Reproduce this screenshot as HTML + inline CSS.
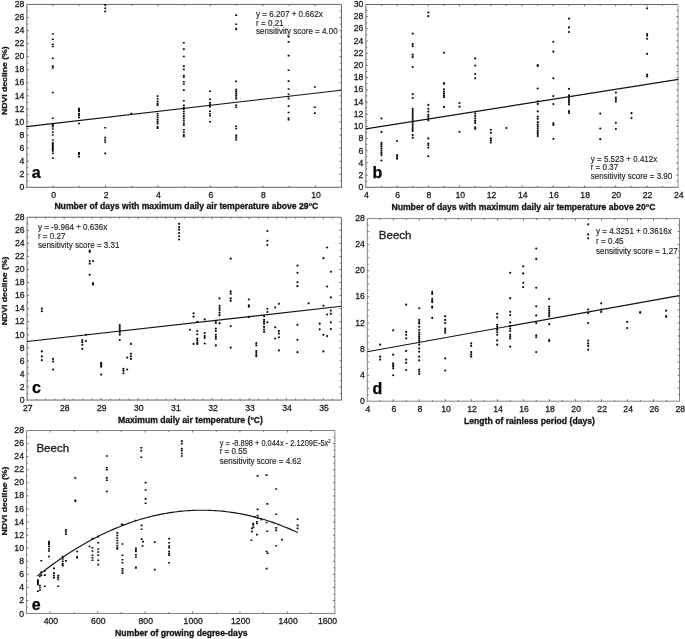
<!DOCTYPE html>
<html><head><meta charset="utf-8"><title>NDVI decline</title>
<style>
html,body{margin:0;padding:0;background:#fff;}
body{width:685px;height:639px;overflow:hidden;}
svg{display:block;will-change:transform;filter:blur(0.3px);font-family:"Liberation Sans",sans-serif;}
</style></head><body>
<svg width="685" height="639" viewBox="0 0 685 639">
<rect width="685" height="639" fill="#ffffff"/>
<path d="M26.85 187.80V4.40H341.45M26.35 187.30H341.95" fill="none" stroke="#666" stroke-width="1"/>
<path d="M341.45 4.40V187.30" fill="none" stroke="#666" stroke-width="1"/>
<path d="M365.90 187.80V4.47H678.10M365.40 187.30H678.60" fill="none" stroke="#666" stroke-width="1"/>
<path d="M678.10 4.47V187.30" fill="none" stroke="#9a9a9a" stroke-width="1"/>
<path d="M27.08 400.56V217.26H341.45M26.58 400.06H341.95" fill="none" stroke="#666" stroke-width="1"/>
<path d="M341.45 217.26V400.06" fill="none" stroke="#666" stroke-width="1"/>
<path d="M367.30 401.70V218.57H679.50M366.80 401.20H680.00" fill="none" stroke="#858585" stroke-width="1"/>
<path d="M679.50 218.57V401.20" fill="none" stroke="#858585" stroke-width="1"/>
<path d="M26.46 614.00V430.50H334.85M25.96 613.50H335.35" fill="none" stroke="#858585" stroke-width="1"/>
<path d="M334.85 430.50V613.50" fill="none" stroke="#858585" stroke-width="1"/>
<path d="M53.07 187.30v-2.0M53.07 4.40v2.0M79.28 187.30v-1.4M79.28 4.40v1.4M105.50 187.30v-2.0M105.50 4.40v2.0M131.72 187.30v-1.4M131.72 4.40v1.4M157.93 187.30v-2.0M157.93 4.40v2.0M184.15 187.30v-1.4M184.15 4.40v1.4M210.37 187.30v-2.0M210.37 4.40v2.0M236.58 187.30v-1.4M236.58 4.40v1.4M262.80 187.30v-2.0M262.80 4.40v2.0M289.02 187.30v-1.4M289.02 4.40v1.4M315.23 187.30v-2.0M315.23 4.40v2.0M26.85 180.77h1.4M341.45 180.77h-1.4M26.85 174.24h2.0M341.45 174.24h-2.0M26.85 167.70h1.4M341.45 167.70h-1.4M26.85 161.17h2.0M341.45 161.17h-2.0M26.85 154.64h1.4M341.45 154.64h-1.4M26.85 148.11h2.0M341.45 148.11h-2.0M26.85 141.58h1.4M341.45 141.58h-1.4M26.85 135.04h2.0M341.45 135.04h-2.0M26.85 128.51h1.4M341.45 128.51h-1.4M26.85 121.98h2.0M341.45 121.98h-2.0M26.85 115.45h1.4M341.45 115.45h-1.4M26.85 108.91h2.0M341.45 108.91h-2.0M26.85 102.38h1.4M341.45 102.38h-1.4M26.85 95.85h2.0M341.45 95.85h-2.0M26.85 89.32h1.4M341.45 89.32h-1.4M26.85 82.79h2.0M341.45 82.79h-2.0M26.85 76.25h1.4M341.45 76.25h-1.4M26.85 69.72h2.0M341.45 69.72h-2.0M26.85 63.19h1.4M341.45 63.19h-1.4M26.85 56.66h2.0M341.45 56.66h-2.0M26.85 50.12h1.4M341.45 50.12h-1.4M26.85 43.59h2.0M341.45 43.59h-2.0M26.85 37.06h1.4M341.45 37.06h-1.4M26.85 30.53h2.0M341.45 30.53h-2.0M26.85 24.00h1.4M341.45 24.00h-1.4M26.85 17.46h2.0M341.45 17.46h-2.0M26.85 10.93h1.4M341.45 10.93h-1.4M381.51 187.30v-1.4M381.51 4.47v1.4M397.12 187.30v-2.0M397.12 4.47v2.0M412.73 187.30v-1.4M412.73 4.47v1.4M428.34 187.30v-2.0M428.34 4.47v2.0M443.95 187.30v-1.4M443.95 4.47v1.4M459.56 187.30v-2.0M459.56 4.47v2.0M475.17 187.30v-1.4M475.17 4.47v1.4M490.78 187.30v-2.0M490.78 4.47v2.0M506.39 187.30v-1.4M506.39 4.47v1.4M522.00 187.30v-2.0M522.00 4.47v2.0M537.61 187.30v-1.4M537.61 4.47v1.4M553.22 187.30v-2.0M553.22 4.47v2.0M568.83 187.30v-1.4M568.83 4.47v1.4M584.44 187.30v-2.0M584.44 4.47v2.0M600.05 187.30v-1.4M600.05 4.47v1.4M615.66 187.30v-2.0M615.66 4.47v2.0M631.27 187.30v-1.4M631.27 4.47v1.4M646.88 187.30v-2.0M646.88 4.47v2.0M662.49 187.30v-1.4M662.49 4.47v1.4M365.90 181.21h1.4M678.10 181.21h-1.4M365.90 175.11h2.0M678.10 175.11h-2.0M365.90 169.02h1.4M678.10 169.02h-1.4M365.90 162.92h2.0M678.10 162.92h-2.0M365.90 156.83h1.4M678.10 156.83h-1.4M365.90 150.73h2.0M678.10 150.73h-2.0M365.90 144.64h1.4M678.10 144.64h-1.4M365.90 138.55h2.0M678.10 138.55h-2.0M365.90 132.45h1.4M678.10 132.45h-1.4M365.90 126.36h2.0M678.10 126.36h-2.0M365.90 120.26h1.4M678.10 120.26h-1.4M365.90 114.17h2.0M678.10 114.17h-2.0M365.90 108.07h1.4M678.10 108.07h-1.4M365.90 101.98h2.0M678.10 101.98h-2.0M365.90 95.89h1.4M678.10 95.89h-1.4M365.90 89.79h2.0M678.10 89.79h-2.0M365.90 83.70h1.4M678.10 83.70h-1.4M365.90 77.60h2.0M678.10 77.60h-2.0M365.90 71.51h1.4M678.10 71.51h-1.4M365.90 65.41h2.0M678.10 65.41h-2.0M365.90 59.32h1.4M678.10 59.32h-1.4M365.90 53.22h2.0M678.10 53.22h-2.0M365.90 47.13h1.4M678.10 47.13h-1.4M365.90 41.04h2.0M678.10 41.04h-2.0M365.90 34.94h1.4M678.10 34.94h-1.4M365.90 28.85h2.0M678.10 28.85h-2.0M365.90 22.75h1.4M678.10 22.75h-1.4M365.90 16.66h2.0M678.10 16.66h-2.0M365.90 10.56h1.4M678.10 10.56h-1.4M36.34 400.06v-1.4M36.34 217.26v1.4M45.59 400.06v-1.4M45.59 217.26v1.4M54.85 400.06v-1.4M54.85 217.26v1.4M64.11 400.06v-2.0M64.11 217.26v2.0M73.37 400.06v-1.4M73.37 217.26v1.4M82.62 400.06v-1.4M82.62 217.26v1.4M91.88 400.06v-1.4M91.88 217.26v1.4M101.14 400.06v-2.0M101.14 217.26v2.0M110.40 400.06v-1.4M110.40 217.26v1.4M119.65 400.06v-1.4M119.65 217.26v1.4M128.91 400.06v-1.4M128.91 217.26v1.4M138.17 400.06v-2.0M138.17 217.26v2.0M147.43 400.06v-1.4M147.43 217.26v1.4M156.69 400.06v-1.4M156.69 217.26v1.4M165.94 400.06v-1.4M165.94 217.26v1.4M175.20 400.06v-2.0M175.20 217.26v2.0M184.46 400.06v-1.4M184.46 217.26v1.4M193.71 400.06v-1.4M193.71 217.26v1.4M202.97 400.06v-1.4M202.97 217.26v1.4M212.23 400.06v-2.0M212.23 217.26v2.0M221.49 400.06v-1.4M221.49 217.26v1.4M230.75 400.06v-1.4M230.75 217.26v1.4M240.00 400.06v-1.4M240.00 217.26v1.4M249.26 400.06v-2.0M249.26 217.26v2.0M258.52 400.06v-1.4M258.52 217.26v1.4M267.77 400.06v-1.4M267.77 217.26v1.4M277.03 400.06v-1.4M277.03 217.26v1.4M286.29 400.06v-2.0M286.29 217.26v2.0M295.55 400.06v-1.4M295.55 217.26v1.4M304.80 400.06v-1.4M304.80 217.26v1.4M314.06 400.06v-1.4M314.06 217.26v1.4M323.32 400.06v-2.0M323.32 217.26v2.0M332.58 400.06v-1.4M332.58 217.26v1.4M27.08 393.53h1.4M341.45 393.53h-1.4M27.08 387.00h2.0M341.45 387.00h-2.0M27.08 380.47h1.4M341.45 380.47h-1.4M27.08 373.95h2.0M341.45 373.95h-2.0M27.08 367.42h1.4M341.45 367.42h-1.4M27.08 360.89h2.0M341.45 360.89h-2.0M27.08 354.36h1.4M341.45 354.36h-1.4M27.08 347.83h2.0M341.45 347.83h-2.0M27.08 341.30h1.4M341.45 341.30h-1.4M27.08 334.77h2.0M341.45 334.77h-2.0M27.08 328.25h1.4M341.45 328.25h-1.4M27.08 321.72h2.0M341.45 321.72h-2.0M27.08 315.19h1.4M341.45 315.19h-1.4M27.08 308.66h2.0M341.45 308.66h-2.0M27.08 302.13h1.4M341.45 302.13h-1.4M27.08 295.60h2.0M341.45 295.60h-2.0M27.08 289.07h1.4M341.45 289.07h-1.4M27.08 282.55h2.0M341.45 282.55h-2.0M27.08 276.02h1.4M341.45 276.02h-1.4M27.08 269.49h2.0M341.45 269.49h-2.0M27.08 262.96h1.4M341.45 262.96h-1.4M27.08 256.43h2.0M341.45 256.43h-2.0M27.08 249.90h1.4M341.45 249.90h-1.4M27.08 243.37h2.0M341.45 243.37h-2.0M27.08 236.85h1.4M341.45 236.85h-1.4M27.08 230.32h2.0M341.45 230.32h-2.0M27.08 223.79h1.4M341.45 223.79h-1.4M380.31 401.20v-1.4M380.31 218.57v1.4M393.32 401.20v-2.0M393.32 218.57v2.0M406.32 401.20v-1.4M406.32 218.57v1.4M419.33 401.20v-2.0M419.33 218.57v2.0M432.34 401.20v-1.4M432.34 218.57v1.4M445.35 401.20v-2.0M445.35 218.57v2.0M458.36 401.20v-1.4M458.36 218.57v1.4M471.37 401.20v-2.0M471.37 218.57v2.0M484.38 401.20v-1.4M484.38 218.57v1.4M497.38 401.20v-2.0M497.38 218.57v2.0M510.39 401.20v-1.4M510.39 218.57v1.4M523.40 401.20v-2.0M523.40 218.57v2.0M536.41 401.20v-1.4M536.41 218.57v1.4M549.42 401.20v-2.0M549.42 218.57v2.0M562.42 401.20v-1.4M562.42 218.57v1.4M575.43 401.20v-2.0M575.43 218.57v2.0M588.44 401.20v-1.4M588.44 218.57v1.4M601.45 401.20v-2.0M601.45 218.57v2.0M614.46 401.20v-1.4M614.46 218.57v1.4M627.47 401.20v-2.0M627.47 218.57v2.0M640.48 401.20v-1.4M640.48 218.57v1.4M653.48 401.20v-2.0M653.48 218.57v2.0M666.49 401.20v-1.4M666.49 218.57v1.4M367.30 394.68h1.4M679.50 394.68h-1.4M367.30 388.15h2.0M679.50 388.15h-2.0M367.30 381.63h1.4M679.50 381.63h-1.4M367.30 375.11h2.0M679.50 375.11h-2.0M367.30 368.59h1.4M679.50 368.59h-1.4M367.30 362.06h2.0M679.50 362.06h-2.0M367.30 355.54h1.4M679.50 355.54h-1.4M367.30 349.02h2.0M679.50 349.02h-2.0M367.30 342.50h1.4M679.50 342.50h-1.4M367.30 335.98h2.0M679.50 335.98h-2.0M367.30 329.45h1.4M679.50 329.45h-1.4M367.30 322.93h2.0M679.50 322.93h-2.0M367.30 316.41h1.4M679.50 316.41h-1.4M367.30 309.88h2.0M679.50 309.88h-2.0M367.30 303.36h1.4M679.50 303.36h-1.4M367.30 296.84h2.0M679.50 296.84h-2.0M367.30 290.32h1.4M679.50 290.32h-1.4M367.30 283.79h2.0M679.50 283.79h-2.0M367.30 277.27h1.4M679.50 277.27h-1.4M367.30 270.75h2.0M679.50 270.75h-2.0M367.30 264.23h1.4M679.50 264.23h-1.4M367.30 257.71h2.0M679.50 257.71h-2.0M367.30 251.18h1.4M679.50 251.18h-1.4M367.30 244.66h2.0M679.50 244.66h-2.0M367.30 238.14h1.4M679.50 238.14h-1.4M367.30 231.61h2.0M679.50 231.61h-2.0M367.30 225.09h1.4M679.50 225.09h-1.4M50.18 613.50v-2.0M50.18 430.50v2.0M73.90 613.50v-1.4M73.90 430.50v1.4M97.63 613.50v-2.0M97.63 430.50v2.0M121.35 613.50v-1.4M121.35 430.50v1.4M145.07 613.50v-2.0M145.07 430.50v2.0M168.79 613.50v-1.4M168.79 430.50v1.4M192.52 613.50v-2.0M192.52 430.50v2.0M216.24 613.50v-1.4M216.24 430.50v1.4M239.96 613.50v-2.0M239.96 430.50v2.0M263.68 613.50v-1.4M263.68 430.50v1.4M287.41 613.50v-2.0M287.41 430.50v2.0M311.13 613.50v-1.4M311.13 430.50v1.4M26.46 606.96h1.4M334.85 606.96h-1.4M26.46 600.43h2.0M334.85 600.43h-2.0M26.46 593.89h1.4M334.85 593.89h-1.4M26.46 587.36h2.0M334.85 587.36h-2.0M26.46 580.82h1.4M334.85 580.82h-1.4M26.46 574.29h2.0M334.85 574.29h-2.0M26.46 567.75h1.4M334.85 567.75h-1.4M26.46 561.21h2.0M334.85 561.21h-2.0M26.46 554.68h1.4M334.85 554.68h-1.4M26.46 548.14h2.0M334.85 548.14h-2.0M26.46 541.61h1.4M334.85 541.61h-1.4M26.46 535.07h2.0M334.85 535.07h-2.0M26.46 528.54h1.4M334.85 528.54h-1.4M26.46 522.00h2.0M334.85 522.00h-2.0M26.46 515.46h1.4M334.85 515.46h-1.4M26.46 508.93h2.0M334.85 508.93h-2.0M26.46 502.39h1.4M334.85 502.39h-1.4M26.46 495.86h2.0M334.85 495.86h-2.0M26.46 489.32h1.4M334.85 489.32h-1.4M26.46 482.79h2.0M334.85 482.79h-2.0M26.46 476.25h1.4M334.85 476.25h-1.4M26.46 469.71h2.0M334.85 469.71h-2.0M26.46 463.18h1.4M334.85 463.18h-1.4M26.46 456.64h2.0M334.85 456.64h-2.0M26.46 450.11h1.4M334.85 450.11h-1.4M26.46 443.57h2.0M334.85 443.57h-2.0M26.46 437.04h1.4M334.85 437.04h-1.4" stroke="#555" stroke-width="0.8" fill="none"/>
<text transform="translate(53.67 198.10) scale(0.93 1)" font-size="9.3" text-anchor="middle" font-weight="normal" fill="#1a1a1a" stroke="#1a1a1a" stroke-width="0.3" >0</text>
<text transform="translate(106.10 198.10) scale(0.93 1)" font-size="9.3" text-anchor="middle" font-weight="normal" fill="#1a1a1a" stroke="#1a1a1a" stroke-width="0.3" >2</text>
<text transform="translate(158.53 198.10) scale(0.93 1)" font-size="9.3" text-anchor="middle" font-weight="normal" fill="#1a1a1a" stroke="#1a1a1a" stroke-width="0.3" >4</text>
<text transform="translate(210.97 198.10) scale(0.93 1)" font-size="9.3" text-anchor="middle" font-weight="normal" fill="#1a1a1a" stroke="#1a1a1a" stroke-width="0.3" >6</text>
<text transform="translate(263.40 198.10) scale(0.93 1)" font-size="9.3" text-anchor="middle" font-weight="normal" fill="#1a1a1a" stroke="#1a1a1a" stroke-width="0.3" >8</text>
<text transform="translate(315.93 198.10) scale(0.93 1)" font-size="9.3" text-anchor="middle" font-weight="normal" fill="#1a1a1a" stroke="#1a1a1a" stroke-width="0.3" >10</text>
<text transform="translate(24.35 190.30) scale(0.93 1)" font-size="9.3" text-anchor="end" font-weight="normal" fill="#1a1a1a" stroke="#1a1a1a" stroke-width="0.3" >0</text>
<text transform="translate(24.35 177.19) scale(0.93 1)" font-size="9.3" text-anchor="end" font-weight="normal" fill="#1a1a1a" stroke="#1a1a1a" stroke-width="0.3" >2</text>
<text transform="translate(24.35 164.08) scale(0.93 1)" font-size="9.3" text-anchor="end" font-weight="normal" fill="#1a1a1a" stroke="#1a1a1a" stroke-width="0.3" >4</text>
<text transform="translate(24.35 150.97) scale(0.93 1)" font-size="9.3" text-anchor="end" font-weight="normal" fill="#1a1a1a" stroke="#1a1a1a" stroke-width="0.3" >6</text>
<text transform="translate(24.35 137.86) scale(0.93 1)" font-size="9.3" text-anchor="end" font-weight="normal" fill="#1a1a1a" stroke="#1a1a1a" stroke-width="0.3" >8</text>
<text transform="translate(24.35 124.75) scale(0.93 1)" font-size="9.3" text-anchor="end" font-weight="normal" fill="#1a1a1a" stroke="#1a1a1a" stroke-width="0.3" >10</text>
<text transform="translate(24.35 111.64) scale(0.93 1)" font-size="9.3" text-anchor="end" font-weight="normal" fill="#1a1a1a" stroke="#1a1a1a" stroke-width="0.3" >12</text>
<text transform="translate(24.35 98.53) scale(0.93 1)" font-size="9.3" text-anchor="end" font-weight="normal" fill="#1a1a1a" stroke="#1a1a1a" stroke-width="0.3" >14</text>
<text transform="translate(24.35 85.41) scale(0.93 1)" font-size="9.3" text-anchor="end" font-weight="normal" fill="#1a1a1a" stroke="#1a1a1a" stroke-width="0.3" >16</text>
<text transform="translate(24.35 72.30) scale(0.93 1)" font-size="9.3" text-anchor="end" font-weight="normal" fill="#1a1a1a" stroke="#1a1a1a" stroke-width="0.3" >18</text>
<text transform="translate(24.35 59.19) scale(0.93 1)" font-size="9.3" text-anchor="end" font-weight="normal" fill="#1a1a1a" stroke="#1a1a1a" stroke-width="0.3" >20</text>
<text transform="translate(24.35 46.08) scale(0.93 1)" font-size="9.3" text-anchor="end" font-weight="normal" fill="#1a1a1a" stroke="#1a1a1a" stroke-width="0.3" >22</text>
<text transform="translate(24.35 32.97) scale(0.93 1)" font-size="9.3" text-anchor="end" font-weight="normal" fill="#1a1a1a" stroke="#1a1a1a" stroke-width="0.3" >24</text>
<text transform="translate(24.35 19.86) scale(0.93 1)" font-size="9.3" text-anchor="end" font-weight="normal" fill="#1a1a1a" stroke="#1a1a1a" stroke-width="0.3" >26</text>
<text transform="translate(24.35 6.75) scale(0.93 1)" font-size="9.3" text-anchor="end" font-weight="normal" fill="#1a1a1a" stroke="#1a1a1a" stroke-width="0.3" >28</text>
<text transform="translate(366.50 198.10) scale(0.93 1)" font-size="9.3" text-anchor="middle" font-weight="normal" fill="#1a1a1a" stroke="#1a1a1a" stroke-width="0.3" >4</text>
<text transform="translate(397.72 198.10) scale(0.93 1)" font-size="9.3" text-anchor="middle" font-weight="normal" fill="#1a1a1a" stroke="#1a1a1a" stroke-width="0.3" >6</text>
<text transform="translate(428.94 198.10) scale(0.93 1)" font-size="9.3" text-anchor="middle" font-weight="normal" fill="#1a1a1a" stroke="#1a1a1a" stroke-width="0.3" >8</text>
<text transform="translate(460.26 198.10) scale(0.93 1)" font-size="9.3" text-anchor="middle" font-weight="normal" fill="#1a1a1a" stroke="#1a1a1a" stroke-width="0.3" >10</text>
<text transform="translate(491.48 198.10) scale(0.93 1)" font-size="9.3" text-anchor="middle" font-weight="normal" fill="#1a1a1a" stroke="#1a1a1a" stroke-width="0.3" >12</text>
<text transform="translate(522.70 198.10) scale(0.93 1)" font-size="9.3" text-anchor="middle" font-weight="normal" fill="#1a1a1a" stroke="#1a1a1a" stroke-width="0.3" >14</text>
<text transform="translate(553.92 198.10) scale(0.93 1)" font-size="9.3" text-anchor="middle" font-weight="normal" fill="#1a1a1a" stroke="#1a1a1a" stroke-width="0.3" >16</text>
<text transform="translate(585.14 198.10) scale(0.93 1)" font-size="9.3" text-anchor="middle" font-weight="normal" fill="#1a1a1a" stroke="#1a1a1a" stroke-width="0.3" >18</text>
<text transform="translate(616.36 198.10) scale(0.93 1)" font-size="9.3" text-anchor="middle" font-weight="normal" fill="#1a1a1a" stroke="#1a1a1a" stroke-width="0.3" >20</text>
<text transform="translate(647.58 198.10) scale(0.93 1)" font-size="9.3" text-anchor="middle" font-weight="normal" fill="#1a1a1a" stroke="#1a1a1a" stroke-width="0.3" >22</text>
<text transform="translate(678.80 198.10) scale(0.93 1)" font-size="9.3" text-anchor="middle" font-weight="normal" fill="#1a1a1a" stroke="#1a1a1a" stroke-width="0.3" >24</text>
<text transform="translate(363.40 190.30) scale(0.93 1)" font-size="9.3" text-anchor="end" font-weight="normal" fill="#1a1a1a" stroke="#1a1a1a" stroke-width="0.3" >0</text>
<text transform="translate(363.40 178.07) scale(0.93 1)" font-size="9.3" text-anchor="end" font-weight="normal" fill="#1a1a1a" stroke="#1a1a1a" stroke-width="0.3" >2</text>
<text transform="translate(363.40 165.84) scale(0.93 1)" font-size="9.3" text-anchor="end" font-weight="normal" fill="#1a1a1a" stroke="#1a1a1a" stroke-width="0.3" >4</text>
<text transform="translate(363.40 153.60) scale(0.93 1)" font-size="9.3" text-anchor="end" font-weight="normal" fill="#1a1a1a" stroke="#1a1a1a" stroke-width="0.3" >6</text>
<text transform="translate(363.40 141.37) scale(0.93 1)" font-size="9.3" text-anchor="end" font-weight="normal" fill="#1a1a1a" stroke="#1a1a1a" stroke-width="0.3" >8</text>
<text transform="translate(363.40 129.14) scale(0.93 1)" font-size="9.3" text-anchor="end" font-weight="normal" fill="#1a1a1a" stroke="#1a1a1a" stroke-width="0.3" >10</text>
<text transform="translate(363.40 116.91) scale(0.93 1)" font-size="9.3" text-anchor="end" font-weight="normal" fill="#1a1a1a" stroke="#1a1a1a" stroke-width="0.3" >12</text>
<text transform="translate(363.40 104.68) scale(0.93 1)" font-size="9.3" text-anchor="end" font-weight="normal" fill="#1a1a1a" stroke="#1a1a1a" stroke-width="0.3" >14</text>
<text transform="translate(363.40 92.44) scale(0.93 1)" font-size="9.3" text-anchor="end" font-weight="normal" fill="#1a1a1a" stroke="#1a1a1a" stroke-width="0.3" >16</text>
<text transform="translate(363.40 80.21) scale(0.93 1)" font-size="9.3" text-anchor="end" font-weight="normal" fill="#1a1a1a" stroke="#1a1a1a" stroke-width="0.3" >18</text>
<text transform="translate(363.40 67.98) scale(0.93 1)" font-size="9.3" text-anchor="end" font-weight="normal" fill="#1a1a1a" stroke="#1a1a1a" stroke-width="0.3" >20</text>
<text transform="translate(363.40 55.75) scale(0.93 1)" font-size="9.3" text-anchor="end" font-weight="normal" fill="#1a1a1a" stroke="#1a1a1a" stroke-width="0.3" >22</text>
<text transform="translate(363.40 43.52) scale(0.93 1)" font-size="9.3" text-anchor="end" font-weight="normal" fill="#1a1a1a" stroke="#1a1a1a" stroke-width="0.3" >24</text>
<text transform="translate(363.40 31.28) scale(0.93 1)" font-size="9.3" text-anchor="end" font-weight="normal" fill="#1a1a1a" stroke="#1a1a1a" stroke-width="0.3" >26</text>
<text transform="translate(363.40 19.05) scale(0.93 1)" font-size="9.3" text-anchor="end" font-weight="normal" fill="#1a1a1a" stroke="#1a1a1a" stroke-width="0.3" >28</text>
<text transform="translate(363.40 6.82) scale(0.93 1)" font-size="9.3" text-anchor="end" font-weight="normal" fill="#1a1a1a" stroke="#1a1a1a" stroke-width="0.3" >30</text>
<text transform="translate(27.78 410.86) scale(0.93 1)" font-size="9.3" text-anchor="middle" font-weight="normal" fill="#1a1a1a" stroke="#1a1a1a" stroke-width="0.3" >27</text>
<text transform="translate(64.81 410.86) scale(0.93 1)" font-size="9.3" text-anchor="middle" font-weight="normal" fill="#1a1a1a" stroke="#1a1a1a" stroke-width="0.3" >28</text>
<text transform="translate(101.84 410.86) scale(0.93 1)" font-size="9.3" text-anchor="middle" font-weight="normal" fill="#1a1a1a" stroke="#1a1a1a" stroke-width="0.3" >29</text>
<text transform="translate(138.87 410.86) scale(0.93 1)" font-size="9.3" text-anchor="middle" font-weight="normal" fill="#1a1a1a" stroke="#1a1a1a" stroke-width="0.3" >30</text>
<text transform="translate(175.90 410.86) scale(0.93 1)" font-size="9.3" text-anchor="middle" font-weight="normal" fill="#1a1a1a" stroke="#1a1a1a" stroke-width="0.3" >31</text>
<text transform="translate(212.93 410.86) scale(0.93 1)" font-size="9.3" text-anchor="middle" font-weight="normal" fill="#1a1a1a" stroke="#1a1a1a" stroke-width="0.3" >32</text>
<text transform="translate(249.96 410.86) scale(0.93 1)" font-size="9.3" text-anchor="middle" font-weight="normal" fill="#1a1a1a" stroke="#1a1a1a" stroke-width="0.3" >33</text>
<text transform="translate(286.99 410.86) scale(0.93 1)" font-size="9.3" text-anchor="middle" font-weight="normal" fill="#1a1a1a" stroke="#1a1a1a" stroke-width="0.3" >34</text>
<text transform="translate(324.02 410.86) scale(0.93 1)" font-size="9.3" text-anchor="middle" font-weight="normal" fill="#1a1a1a" stroke="#1a1a1a" stroke-width="0.3" >35</text>
<text transform="translate(24.58 403.06) scale(0.93 1)" font-size="9.3" text-anchor="end" font-weight="normal" fill="#1a1a1a" stroke="#1a1a1a" stroke-width="0.3" >0</text>
<text transform="translate(24.58 389.96) scale(0.93 1)" font-size="9.3" text-anchor="end" font-weight="normal" fill="#1a1a1a" stroke="#1a1a1a" stroke-width="0.3" >2</text>
<text transform="translate(24.58 376.85) scale(0.93 1)" font-size="9.3" text-anchor="end" font-weight="normal" fill="#1a1a1a" stroke="#1a1a1a" stroke-width="0.3" >4</text>
<text transform="translate(24.58 363.75) scale(0.93 1)" font-size="9.3" text-anchor="end" font-weight="normal" fill="#1a1a1a" stroke="#1a1a1a" stroke-width="0.3" >6</text>
<text transform="translate(24.58 350.65) scale(0.93 1)" font-size="9.3" text-anchor="end" font-weight="normal" fill="#1a1a1a" stroke="#1a1a1a" stroke-width="0.3" >8</text>
<text transform="translate(24.58 337.54) scale(0.93 1)" font-size="9.3" text-anchor="end" font-weight="normal" fill="#1a1a1a" stroke="#1a1a1a" stroke-width="0.3" >10</text>
<text transform="translate(24.58 324.44) scale(0.93 1)" font-size="9.3" text-anchor="end" font-weight="normal" fill="#1a1a1a" stroke="#1a1a1a" stroke-width="0.3" >12</text>
<text transform="translate(24.58 311.33) scale(0.93 1)" font-size="9.3" text-anchor="end" font-weight="normal" fill="#1a1a1a" stroke="#1a1a1a" stroke-width="0.3" >14</text>
<text transform="translate(24.58 298.23) scale(0.93 1)" font-size="9.3" text-anchor="end" font-weight="normal" fill="#1a1a1a" stroke="#1a1a1a" stroke-width="0.3" >16</text>
<text transform="translate(24.58 285.13) scale(0.93 1)" font-size="9.3" text-anchor="end" font-weight="normal" fill="#1a1a1a" stroke="#1a1a1a" stroke-width="0.3" >18</text>
<text transform="translate(24.58 272.02) scale(0.93 1)" font-size="9.3" text-anchor="end" font-weight="normal" fill="#1a1a1a" stroke="#1a1a1a" stroke-width="0.3" >20</text>
<text transform="translate(24.58 258.92) scale(0.93 1)" font-size="9.3" text-anchor="end" font-weight="normal" fill="#1a1a1a" stroke="#1a1a1a" stroke-width="0.3" >22</text>
<text transform="translate(24.58 245.82) scale(0.93 1)" font-size="9.3" text-anchor="end" font-weight="normal" fill="#1a1a1a" stroke="#1a1a1a" stroke-width="0.3" >24</text>
<text transform="translate(24.58 232.71) scale(0.93 1)" font-size="9.3" text-anchor="end" font-weight="normal" fill="#1a1a1a" stroke="#1a1a1a" stroke-width="0.3" >26</text>
<text transform="translate(24.58 219.61) scale(0.93 1)" font-size="9.3" text-anchor="end" font-weight="normal" fill="#1a1a1a" stroke="#1a1a1a" stroke-width="0.3" >28</text>
<text transform="translate(367.90 411.60) scale(0.93 1)" font-size="9.3" text-anchor="middle" font-weight="normal" fill="#1a1a1a" stroke="#1a1a1a" stroke-width="0.3" >4</text>
<text transform="translate(393.92 411.60) scale(0.93 1)" font-size="9.3" text-anchor="middle" font-weight="normal" fill="#1a1a1a" stroke="#1a1a1a" stroke-width="0.3" >6</text>
<text transform="translate(419.93 411.60) scale(0.93 1)" font-size="9.3" text-anchor="middle" font-weight="normal" fill="#1a1a1a" stroke="#1a1a1a" stroke-width="0.3" >8</text>
<text transform="translate(446.05 411.60) scale(0.93 1)" font-size="9.3" text-anchor="middle" font-weight="normal" fill="#1a1a1a" stroke="#1a1a1a" stroke-width="0.3" >10</text>
<text transform="translate(472.07 411.60) scale(0.93 1)" font-size="9.3" text-anchor="middle" font-weight="normal" fill="#1a1a1a" stroke="#1a1a1a" stroke-width="0.3" >12</text>
<text transform="translate(498.08 411.60) scale(0.93 1)" font-size="9.3" text-anchor="middle" font-weight="normal" fill="#1a1a1a" stroke="#1a1a1a" stroke-width="0.3" >14</text>
<text transform="translate(524.10 411.60) scale(0.93 1)" font-size="9.3" text-anchor="middle" font-weight="normal" fill="#1a1a1a" stroke="#1a1a1a" stroke-width="0.3" >16</text>
<text transform="translate(550.12 411.60) scale(0.93 1)" font-size="9.3" text-anchor="middle" font-weight="normal" fill="#1a1a1a" stroke="#1a1a1a" stroke-width="0.3" >18</text>
<text transform="translate(576.13 411.60) scale(0.93 1)" font-size="9.3" text-anchor="middle" font-weight="normal" fill="#1a1a1a" stroke="#1a1a1a" stroke-width="0.3" >20</text>
<text transform="translate(602.15 411.60) scale(0.93 1)" font-size="9.3" text-anchor="middle" font-weight="normal" fill="#1a1a1a" stroke="#1a1a1a" stroke-width="0.3" >22</text>
<text transform="translate(628.17 411.60) scale(0.93 1)" font-size="9.3" text-anchor="middle" font-weight="normal" fill="#1a1a1a" stroke="#1a1a1a" stroke-width="0.3" >24</text>
<text transform="translate(654.18 411.60) scale(0.93 1)" font-size="9.3" text-anchor="middle" font-weight="normal" fill="#1a1a1a" stroke="#1a1a1a" stroke-width="0.3" >26</text>
<text transform="translate(680.20 411.60) scale(0.93 1)" font-size="9.3" text-anchor="middle" font-weight="normal" fill="#1a1a1a" stroke="#1a1a1a" stroke-width="0.3" >28</text>
<text transform="translate(364.80 404.20) scale(0.93 1)" font-size="9.3" text-anchor="end" font-weight="normal" fill="#1a1a1a" stroke="#1a1a1a" stroke-width="0.3" >0</text>
<text transform="translate(364.80 378.02) scale(0.93 1)" font-size="9.3" text-anchor="end" font-weight="normal" fill="#1a1a1a" stroke="#1a1a1a" stroke-width="0.3" >4</text>
<text transform="translate(364.80 351.83) scale(0.93 1)" font-size="9.3" text-anchor="end" font-weight="normal" fill="#1a1a1a" stroke="#1a1a1a" stroke-width="0.3" >8</text>
<text transform="translate(364.80 325.65) scale(0.93 1)" font-size="9.3" text-anchor="end" font-weight="normal" fill="#1a1a1a" stroke="#1a1a1a" stroke-width="0.3" >12</text>
<text transform="translate(364.80 299.47) scale(0.93 1)" font-size="9.3" text-anchor="end" font-weight="normal" fill="#1a1a1a" stroke="#1a1a1a" stroke-width="0.3" >16</text>
<text transform="translate(364.80 273.29) scale(0.93 1)" font-size="9.3" text-anchor="end" font-weight="normal" fill="#1a1a1a" stroke="#1a1a1a" stroke-width="0.3" >20</text>
<text transform="translate(364.80 247.10) scale(0.93 1)" font-size="9.3" text-anchor="end" font-weight="normal" fill="#1a1a1a" stroke="#1a1a1a" stroke-width="0.3" >24</text>
<text transform="translate(364.80 220.92) scale(0.93 1)" font-size="9.3" text-anchor="end" font-weight="normal" fill="#1a1a1a" stroke="#1a1a1a" stroke-width="0.3" >28</text>
<text transform="translate(50.88 624.30) scale(0.93 1)" font-size="9.3" text-anchor="middle" font-weight="normal" fill="#1a1a1a" stroke="#1a1a1a" stroke-width="0.3" >400</text>
<text transform="translate(98.33 624.30) scale(0.93 1)" font-size="9.3" text-anchor="middle" font-weight="normal" fill="#1a1a1a" stroke="#1a1a1a" stroke-width="0.3" >600</text>
<text transform="translate(145.77 624.30) scale(0.93 1)" font-size="9.3" text-anchor="middle" font-weight="normal" fill="#1a1a1a" stroke="#1a1a1a" stroke-width="0.3" >800</text>
<text transform="translate(193.22 624.30) scale(0.93 1)" font-size="9.3" text-anchor="middle" font-weight="normal" fill="#1a1a1a" stroke="#1a1a1a" stroke-width="0.3" >1000</text>
<text transform="translate(240.66 624.30) scale(0.93 1)" font-size="9.3" text-anchor="middle" font-weight="normal" fill="#1a1a1a" stroke="#1a1a1a" stroke-width="0.3" >1200</text>
<text transform="translate(288.11 624.30) scale(0.93 1)" font-size="9.3" text-anchor="middle" font-weight="normal" fill="#1a1a1a" stroke="#1a1a1a" stroke-width="0.3" >1400</text>
<text transform="translate(327.55 624.30) scale(0.93 1)" font-size="9.3" text-anchor="middle" font-weight="normal" fill="#1a1a1a" stroke="#1a1a1a" stroke-width="0.3" >1600</text>
<text transform="translate(23.96 616.50) scale(0.93 1)" font-size="9.3" text-anchor="end" font-weight="normal" fill="#1a1a1a" stroke="#1a1a1a" stroke-width="0.3" >0</text>
<text transform="translate(23.96 603.38) scale(0.93 1)" font-size="9.3" text-anchor="end" font-weight="normal" fill="#1a1a1a" stroke="#1a1a1a" stroke-width="0.3" >2</text>
<text transform="translate(23.96 590.26) scale(0.93 1)" font-size="9.3" text-anchor="end" font-weight="normal" fill="#1a1a1a" stroke="#1a1a1a" stroke-width="0.3" >4</text>
<text transform="translate(23.96 577.15) scale(0.93 1)" font-size="9.3" text-anchor="end" font-weight="normal" fill="#1a1a1a" stroke="#1a1a1a" stroke-width="0.3" >6</text>
<text transform="translate(23.96 564.03) scale(0.93 1)" font-size="9.3" text-anchor="end" font-weight="normal" fill="#1a1a1a" stroke="#1a1a1a" stroke-width="0.3" >8</text>
<text transform="translate(23.96 550.91) scale(0.93 1)" font-size="9.3" text-anchor="end" font-weight="normal" fill="#1a1a1a" stroke="#1a1a1a" stroke-width="0.3" >10</text>
<text transform="translate(23.96 537.79) scale(0.93 1)" font-size="9.3" text-anchor="end" font-weight="normal" fill="#1a1a1a" stroke="#1a1a1a" stroke-width="0.3" >12</text>
<text transform="translate(23.96 524.67) scale(0.93 1)" font-size="9.3" text-anchor="end" font-weight="normal" fill="#1a1a1a" stroke="#1a1a1a" stroke-width="0.3" >14</text>
<text transform="translate(23.96 511.56) scale(0.93 1)" font-size="9.3" text-anchor="end" font-weight="normal" fill="#1a1a1a" stroke="#1a1a1a" stroke-width="0.3" >16</text>
<text transform="translate(23.96 498.44) scale(0.93 1)" font-size="9.3" text-anchor="end" font-weight="normal" fill="#1a1a1a" stroke="#1a1a1a" stroke-width="0.3" >18</text>
<text transform="translate(23.96 485.32) scale(0.93 1)" font-size="9.3" text-anchor="end" font-weight="normal" fill="#1a1a1a" stroke="#1a1a1a" stroke-width="0.3" >20</text>
<text transform="translate(23.96 472.20) scale(0.93 1)" font-size="9.3" text-anchor="end" font-weight="normal" fill="#1a1a1a" stroke="#1a1a1a" stroke-width="0.3" >22</text>
<text transform="translate(23.96 459.09) scale(0.93 1)" font-size="9.3" text-anchor="end" font-weight="normal" fill="#1a1a1a" stroke="#1a1a1a" stroke-width="0.3" >24</text>
<text transform="translate(23.96 445.97) scale(0.93 1)" font-size="9.3" text-anchor="end" font-weight="normal" fill="#1a1a1a" stroke="#1a1a1a" stroke-width="0.3" >26</text>
<text transform="translate(23.96 432.85) scale(0.93 1)" font-size="9.3" text-anchor="end" font-weight="normal" fill="#1a1a1a" stroke="#1a1a1a" stroke-width="0.3" >28</text>
<text transform="translate(186.35 209.40) scale(0.92 1)" font-size="9.4" text-anchor="middle" font-weight="bold" fill="#111" stroke="#111" stroke-width="0.3" >Number of days with maximum daily air temperature above 29°C</text>
<text transform="translate(523.40 209.80) scale(0.92 1)" font-size="9.4" text-anchor="middle" font-weight="bold" fill="#111" stroke="#111" stroke-width="0.3" >Number of days with maximum daily air temperature above 20°C</text>
<text transform="translate(190.50 422.50) scale(0.92 1)" font-size="9.4" text-anchor="middle" font-weight="bold" fill="#111" stroke="#111" stroke-width="0.3" >Maximum daily air temperature (°C)</text>
<text transform="translate(529.45 424.00) scale(0.92 1)" font-size="9.4" text-anchor="middle" font-weight="bold" fill="#111" stroke="#111" stroke-width="0.3" >Length of rainless period (days)</text>
<text transform="translate(181.30 636.20) scale(0.92 1)" font-size="9.4" text-anchor="middle" font-weight="bold" fill="#111" stroke="#111" stroke-width="0.3" >Number of growing degree-days</text>
<text transform="translate(7.1 80.7) scale(0.91 1) rotate(-90)" font-size="8.68" text-anchor="middle" font-weight="bold" fill="#111" stroke="#111" stroke-width="0.3">NDVI decline (%)</text>
<text transform="translate(7.4 290.9) scale(0.91 1) rotate(-90)" font-size="8.68" text-anchor="middle" font-weight="bold" fill="#111" stroke="#111" stroke-width="0.3">NDVI decline (%)</text>
<text transform="translate(6.6 501.0) scale(0.91 1) rotate(-90)" font-size="8.68" text-anchor="middle" font-weight="bold" fill="#111" stroke="#111" stroke-width="0.3">NDVI decline (%)</text>
<text transform="translate(31.70 178.40) scale(1.0 1)" font-size="16" text-anchor="start" font-weight="bold" fill="#000" stroke="#000" stroke-width="0.25" >a</text>
<text transform="translate(372.50 178.40) scale(1.0 1)" font-size="16" text-anchor="start" font-weight="bold" fill="#000" stroke="#000" stroke-width="0.25" >b</text>
<text transform="translate(32.00 393.40) scale(1.0 1)" font-size="16" text-anchor="start" font-weight="bold" fill="#000" stroke="#000" stroke-width="0.25" >c</text>
<text transform="translate(372.50 394.00) scale(1.0 1)" font-size="16" text-anchor="start" font-weight="bold" fill="#000" stroke="#000" stroke-width="0.25" >d</text>
<text transform="translate(31.70 609.60) scale(1.0 1)" font-size="16" text-anchor="start" font-weight="bold" fill="#000" stroke="#000" stroke-width="0.25" >e</text>
<text transform="translate(378.80 239.20) scale(1.04 1)" font-size="11.1" text-anchor="start" font-weight="normal" fill="#111" stroke="#111" stroke-width="0.25" >Beech</text>
<text transform="translate(36.40 451.50) scale(1.04 1)" font-size="11.1" text-anchor="start" font-weight="normal" fill="#111" stroke="#111" stroke-width="0.25" >Beech</text>
<text transform="translate(256.10 17.30) scale(0.925 1)" font-size="8.7" text-anchor="start" font-weight="normal" fill="#222" stroke="#222" stroke-width="0.15" >y = 6.207 + 0.662x</text>
<text transform="translate(256.10 25.70) scale(0.925 1)" font-size="8.7" text-anchor="start" font-weight="normal" fill="#222" stroke="#222" stroke-width="0.15" >r = 0.21</text>
<text transform="translate(256.10 34.20) scale(0.925 1)" font-size="8.7" text-anchor="start" font-weight="normal" fill="#222" stroke="#222" stroke-width="0.15" >sensitivity score = 4.00</text>
<text transform="translate(590.70 161.90) scale(0.925 1)" font-size="8.7" text-anchor="start" font-weight="normal" fill="#222" stroke="#222" stroke-width="0.15" >y = 5.523 + 0.412x</text>
<text transform="translate(590.70 170.30) scale(0.925 1)" font-size="8.7" text-anchor="start" font-weight="normal" fill="#222" stroke="#222" stroke-width="0.15" >r = 0.37</text>
<text transform="translate(590.70 178.60) scale(0.925 1)" font-size="8.7" text-anchor="start" font-weight="normal" fill="#222" stroke="#222" stroke-width="0.15" >sensitivity score = 3.90</text>
<text transform="translate(37.90 229.75) scale(0.925 1)" font-size="8.7" text-anchor="start" font-weight="normal" fill="#222" stroke="#222" stroke-width="0.15" >y = -9.964 + 0.636x</text>
<text transform="translate(37.90 238.85) scale(0.925 1)" font-size="8.7" text-anchor="start" font-weight="normal" fill="#222" stroke="#222" stroke-width="0.15" >r = 0.27</text>
<text transform="translate(37.90 247.60) scale(0.925 1)" font-size="8.7" text-anchor="start" font-weight="normal" fill="#222" stroke="#222" stroke-width="0.15" >sensitivity score = 3.31</text>
<text transform="translate(596.10 234.20) scale(0.925 1)" font-size="8.7" text-anchor="start" font-weight="normal" fill="#222" stroke="#222" stroke-width="0.15" >y = 4.3251 + 0.3616x</text>
<text transform="translate(596.10 244.30) scale(0.925 1)" font-size="8.7" text-anchor="start" font-weight="normal" fill="#222" stroke="#222" stroke-width="0.15" >r = 0.45</text>
<text transform="translate(596.10 253.75) scale(0.925 1)" font-size="8.7" text-anchor="start" font-weight="normal" fill="#222" stroke="#222" stroke-width="0.15" >sensitivity score = 1.27</text>
<text transform="translate(219.70 445.70) scale(0.855 1)" font-size="8.7" text-anchor="start" font-weight="normal" fill="#222" stroke="#222" stroke-width="0.15" >y = -8.898 + 0.044x - 2.1209E-5x<tspan font-size="5" dy="-3">2</tspan></text>
<text transform="translate(219.70 454.10) scale(0.925 1)" font-size="8.7" text-anchor="start" font-weight="normal" fill="#222" stroke="#222" stroke-width="0.15" >r = 0.55</text>
<text transform="translate(219.70 463.50) scale(0.925 1)" font-size="8.7" text-anchor="start" font-weight="normal" fill="#222" stroke="#222" stroke-width="0.15" >sensitivity score = 4.62</text>
<line x1="26.60" y1="126.60" x2="341.00" y2="90.20" stroke="#111" stroke-width="1.15"/>
<line x1="365.80" y1="128.90" x2="678.40" y2="79.40" stroke="#111" stroke-width="1.15"/>
<line x1="27.00" y1="341.50" x2="341.50" y2="306.30" stroke="#111" stroke-width="1.15"/>
<line x1="367.20" y1="351.70" x2="679.20" y2="295.60" stroke="#111" stroke-width="1.15"/>
<polyline points="37.26,576.17 39.63,574.28 42.00,572.42 44.37,570.59 46.74,568.79 49.11,567.02 51.48,565.27 53.85,563.55 56.22,561.85 58.58,560.19 60.95,558.55 63.32,556.94 65.69,555.35 68.06,553.79 70.43,552.26 72.80,550.76 75.17,549.29 77.54,547.84 79.91,546.42 82.28,545.03 84.65,543.66 87.02,542.32 89.38,541.01 91.75,539.73 94.12,538.47 96.49,537.24 98.86,536.04 101.23,534.86 103.60,533.72 105.97,532.60 108.34,531.50 110.71,530.44 113.08,529.40 115.45,528.39 117.82,527.41 120.18,526.45 122.55,525.52 124.92,524.62 127.29,523.74 129.66,522.90 132.03,522.08 134.40,521.29 136.77,520.52 139.14,519.78 141.51,519.07 143.88,518.39 146.25,517.74 148.62,517.11 150.98,516.51 153.35,515.93 155.72,515.39 158.09,514.87 160.46,514.38 162.83,513.91 165.20,513.47 167.57,513.06 169.94,512.68 172.31,512.33 174.68,512.00 177.05,511.70 179.42,511.42 181.78,511.18 184.15,510.96 186.52,510.77 188.89,510.61 191.26,510.47 193.63,510.36 196.00,510.28 198.37,510.22 200.74,510.20 203.11,510.20 205.48,510.22 207.85,510.28 210.22,510.36 212.58,510.47 214.95,510.61 217.32,510.77 219.69,510.96 222.06,511.18 224.43,511.42 226.80,511.70 229.17,512.00 231.54,512.33 233.91,512.68 236.28,513.06 238.65,513.47 241.02,513.91 243.38,514.38 245.75,514.87 248.12,515.39 250.49,515.93 252.86,516.51 255.23,517.11 257.60,517.74 259.97,518.39 262.34,519.07 264.71,519.78 267.08,520.52 269.45,521.29 271.82,522.08 274.18,522.90 276.55,523.74 278.92,524.62 281.29,525.52 283.66,526.45 286.03,527.41 288.40,528.39 290.77,529.40 293.14,530.44 295.51,531.50 297.88,532.60" fill="none" stroke="#111" stroke-width="1.15"/>
<path d="M51.85 33.26h1.9v1.6h-1.9zM51.85 38.49h1.9v1.6h-1.9zM51.85 43.39h1.9v1.6h-1.9zM51.85 45.68h1.9v1.6h-1.9zM51.85 57.45h1.9v1.6h-1.9zM51.85 65.29h1.9v1.6h-1.9zM51.85 67.25h1.9v1.6h-1.9zM51.85 91.76h1.9v1.6h-1.9zM51.85 117.51h1.9v1.6h-1.9zM51.85 123.13h1.9v1.6h-1.9zM51.85 124.63h1.9v1.6h-1.9zM51.85 126.01h1.9v1.6h-1.9zM51.85 128.23h1.9v1.6h-1.9zM51.85 131.50h1.9v1.6h-1.9zM51.85 134.18h1.9v1.6h-1.9zM51.85 139.21h1.9v1.6h-1.9zM51.85 141.89h1.9v1.6h-1.9zM51.85 143.59h1.9v1.6h-1.9zM51.85 145.22h1.9v1.6h-1.9zM51.85 146.79h1.9v1.6h-1.9zM51.85 148.49h1.9v1.6h-1.9zM51.85 150.12h1.9v1.6h-1.9zM51.85 152.48h1.9v1.6h-1.9zM51.85 157.18h1.9v1.6h-1.9zM78.05 107.77h1.9v1.6h-1.9zM78.05 109.27h1.9v1.6h-1.9zM78.05 110.71h1.9v1.6h-1.9zM78.05 112.93h1.9v1.6h-1.9zM78.05 114.50h1.9v1.6h-1.9zM78.05 116.53h1.9v1.6h-1.9zM78.05 122.74h1.9v1.6h-1.9zM78.05 152.08h1.9v1.6h-1.9zM78.05 153.59h1.9v1.6h-1.9zM78.05 155.94h1.9v1.6h-1.9zM104.25 4.11h1.9v1.6h-1.9zM104.25 7.45h1.9v1.6h-1.9zM104.25 10.59h1.9v1.6h-1.9zM104.25 126.92h1.9v1.6h-1.9zM104.25 136.86h1.9v1.6h-1.9zM104.25 139.14h1.9v1.6h-1.9zM104.25 141.23h1.9v1.6h-1.9zM104.25 152.61h1.9v1.6h-1.9zM130.45 112.80h1.9v1.6h-1.9zM156.65 95.35h1.9v1.6h-1.9zM156.65 97.97h1.9v1.6h-1.9zM156.65 100.58h1.9v1.6h-1.9zM156.65 102.87h1.9v1.6h-1.9zM156.65 104.50h1.9v1.6h-1.9zM156.65 113.00h1.9v1.6h-1.9zM156.65 114.96h1.9v1.6h-1.9zM156.65 116.92h1.9v1.6h-1.9zM156.65 118.88h1.9v1.6h-1.9zM156.65 120.84h1.9v1.6h-1.9zM156.65 122.80h1.9v1.6h-1.9zM156.65 126.07h1.9v1.6h-1.9zM156.65 127.38h1.9v1.6h-1.9zM182.85 41.89h1.9v1.6h-1.9zM182.85 48.30h1.9v1.6h-1.9zM182.85 55.68h1.9v1.6h-1.9zM182.85 65.29h1.9v1.6h-1.9zM182.85 68.56h1.9v1.6h-1.9zM182.85 74.64h1.9v1.6h-1.9zM182.85 76.40h1.9v1.6h-1.9zM182.85 80.97h1.9v1.6h-1.9zM182.85 83.26h1.9v1.6h-1.9zM182.85 89.28h1.9v1.6h-1.9zM182.85 99.93h1.9v1.6h-1.9zM182.85 104.50h1.9v1.6h-1.9zM182.85 106.46h1.9v1.6h-1.9zM182.85 108.42h1.9v1.6h-1.9zM182.85 110.71h1.9v1.6h-1.9zM182.85 113.00h1.9v1.6h-1.9zM182.85 115.29h1.9v1.6h-1.9zM182.85 117.58h1.9v1.6h-1.9zM182.85 119.86h1.9v1.6h-1.9zM182.85 122.15h1.9v1.6h-1.9zM182.85 124.11h1.9v1.6h-1.9zM182.85 128.88h1.9v1.6h-1.9zM182.85 131.43h1.9v1.6h-1.9zM182.85 134.04h1.9v1.6h-1.9zM182.85 135.74h1.9v1.6h-1.9zM209.05 90.52h1.9v1.6h-1.9zM209.05 98.62h1.9v1.6h-1.9zM209.05 101.89h1.9v1.6h-1.9zM209.05 103.85h1.9v1.6h-1.9zM209.05 105.81h1.9v1.6h-1.9zM209.05 110.39h1.9v1.6h-1.9zM209.05 113.00h1.9v1.6h-1.9zM209.05 114.96h1.9v1.6h-1.9zM209.05 120.97h1.9v1.6h-1.9zM235.25 14.31h1.9v1.6h-1.9zM235.25 23.46h1.9v1.6h-1.9zM235.25 27.71h1.9v1.6h-1.9zM235.25 28.69h1.9v1.6h-1.9zM235.25 80.58h1.9v1.6h-1.9zM235.25 88.82h1.9v1.6h-1.9zM235.25 90.65h1.9v1.6h-1.9zM235.25 92.48h1.9v1.6h-1.9zM235.25 94.31h1.9v1.6h-1.9zM235.25 96.14h1.9v1.6h-1.9zM235.25 97.97h1.9v1.6h-1.9zM235.25 104.50h1.9v1.6h-1.9zM235.25 106.46h1.9v1.6h-1.9zM235.25 125.42h1.9v1.6h-1.9zM235.25 127.71h1.9v1.6h-1.9zM235.25 134.57h1.9v1.6h-1.9zM235.25 136.53h1.9v1.6h-1.9zM235.25 138.82h1.9v1.6h-1.9zM287.65 35.88h1.9v1.6h-1.9zM287.65 41.11h1.9v1.6h-1.9zM287.65 54.83h1.9v1.6h-1.9zM287.65 69.41h1.9v1.6h-1.9zM287.65 80.32h1.9v1.6h-1.9zM287.65 88.16h1.9v1.6h-1.9zM287.65 93.39h1.9v1.6h-1.9zM287.65 96.01h1.9v1.6h-1.9zM287.65 97.97h1.9v1.6h-1.9zM287.65 105.35h1.9v1.6h-1.9zM287.65 111.69h1.9v1.6h-1.9zM287.65 117.25h1.9v1.6h-1.9zM287.65 118.88h1.9v1.6h-1.9zM313.85 86.20h1.9v1.6h-1.9zM313.85 106.46h1.9v1.6h-1.9zM313.85 112.35h1.9v1.6h-1.9zM74.35 477.10h1.9v1.6h-1.9zM74.35 499.60h1.9v1.6h-1.9zM74.35 500.40h1.9v1.6h-1.9zM105.85 455.20h1.9v1.6h-1.9zM105.85 466.90h1.9v1.6h-1.9zM105.85 468.90h1.9v1.6h-1.9zM105.85 477.10h1.9v1.6h-1.9zM105.85 479.50h1.9v1.6h-1.9zM105.85 490.70h1.9v1.6h-1.9zM140.35 447.00h1.9v1.6h-1.9zM140.35 449.80h1.9v1.6h-1.9zM140.35 456.50h1.9v1.6h-1.9zM144.65 481.80h1.9v1.6h-1.9zM144.65 489.20h1.9v1.6h-1.9zM144.65 498.10h1.9v1.6h-1.9zM144.65 502.40h1.9v1.6h-1.9zM180.85 440.30h1.9v1.6h-1.9zM180.85 442.80h1.9v1.6h-1.9zM180.85 447.80h1.9v1.6h-1.9zM180.85 449.80h1.9v1.6h-1.9zM180.85 452.70h1.9v1.6h-1.9zM180.85 455.20h1.9v1.6h-1.9zM120.75 523.50h1.9v1.6h-1.9zM134.65 519.70h1.9v1.6h-1.9zM36.95 579.20h1.9v1.6h-1.9zM36.95 580.70h1.9v1.6h-1.9zM36.95 582.20h1.9v1.6h-1.9zM36.95 583.70h1.9v1.6h-1.9zM36.95 590.40h1.9v1.6h-1.9zM38.95 575.50h1.9v1.6h-1.9zM38.95 584.70h1.9v1.6h-1.9zM38.95 586.70h1.9v1.6h-1.9zM38.95 589.20h1.9v1.6h-1.9zM40.35 559.90h1.9v1.6h-1.9zM40.35 571.30h1.9v1.6h-1.9zM40.35 574.30h1.9v1.6h-1.9zM43.85 570.10h1.9v1.6h-1.9zM43.85 574.30h1.9v1.6h-1.9zM43.85 585.40h1.9v1.6h-1.9zM48.05 540.80h1.9v1.6h-1.9zM48.05 542.20h1.9v1.6h-1.9zM48.05 543.70h1.9v1.6h-1.9zM48.05 545.70h1.9v1.6h-1.9zM48.05 548.20h1.9v1.6h-1.9zM48.05 550.20h1.9v1.6h-1.9zM48.05 555.70h1.9v1.6h-1.9zM53.05 567.60h1.9v1.6h-1.9zM53.05 572.30h1.9v1.6h-1.9zM53.05 574.70h1.9v1.6h-1.9zM53.05 576.80h1.9v1.6h-1.9zM57.25 574.80h1.9v1.6h-1.9zM57.25 576.70h1.9v1.6h-1.9zM57.25 578.70h1.9v1.6h-1.9zM57.25 585.40h1.9v1.6h-1.9zM61.75 555.70h1.9v1.6h-1.9zM61.75 558.20h1.9v1.6h-1.9zM61.75 560.60h1.9v1.6h-1.9zM61.75 563.10h1.9v1.6h-1.9zM61.75 564.80h1.9v1.6h-1.9zM64.95 528.90h1.9v1.6h-1.9zM64.95 530.80h1.9v1.6h-1.9zM64.95 533.30h1.9v1.6h-1.9zM64.95 560.10h1.9v1.6h-1.9zM76.15 550.70h1.9v1.6h-1.9zM76.15 556.10h1.9v1.6h-1.9zM76.15 556.80h1.9v1.6h-1.9zM88.55 545.70h1.9v1.6h-1.9zM91.55 537.80h1.9v1.6h-1.9zM91.55 547.00h1.9v1.6h-1.9zM91.55 550.20h1.9v1.6h-1.9zM91.55 554.40h1.9v1.6h-1.9zM91.55 556.90h1.9v1.6h-1.9zM91.55 559.40h1.9v1.6h-1.9zM97.25 535.80h1.9v1.6h-1.9zM97.25 542.00h1.9v1.6h-1.9zM97.25 548.20h1.9v1.6h-1.9zM97.25 551.20h1.9v1.6h-1.9zM97.25 554.40h1.9v1.6h-1.9zM97.25 559.40h1.9v1.6h-1.9zM97.25 563.80h1.9v1.6h-1.9zM116.35 532.10h1.9v1.6h-1.9zM116.35 534.70h1.9v1.6h-1.9zM116.35 537.20h1.9v1.6h-1.9zM116.35 539.70h1.9v1.6h-1.9zM116.35 542.20h1.9v1.6h-1.9zM116.35 544.70h1.9v1.6h-1.9zM116.35 546.70h1.9v1.6h-1.9zM116.35 548.20h1.9v1.6h-1.9zM121.55 523.90h1.9v1.6h-1.9zM121.55 543.20h1.9v1.6h-1.9zM121.55 554.40h1.9v1.6h-1.9zM121.55 558.90h1.9v1.6h-1.9zM121.55 561.90h1.9v1.6h-1.9zM121.55 568.10h1.9v1.6h-1.9zM121.55 570.20h1.9v1.6h-1.9zM121.55 572.30h1.9v1.6h-1.9zM134.95 547.50h1.9v1.6h-1.9zM134.95 549.20h1.9v1.6h-1.9zM134.95 550.70h1.9v1.6h-1.9zM134.95 553.90h1.9v1.6h-1.9zM134.95 556.20h1.9v1.6h-1.9zM134.95 566.50h1.9v1.6h-1.9zM134.95 567.20h1.9v1.6h-1.9zM140.65 524.60h1.9v1.6h-1.9zM140.65 528.40h1.9v1.6h-1.9zM140.65 538.30h1.9v1.6h-1.9zM142.05 540.80h1.9v1.6h-1.9zM141.65 545.20h1.9v1.6h-1.9zM153.75 541.30h1.9v1.6h-1.9zM153.75 568.80h1.9v1.6h-1.9zM168.15 537.80h1.9v1.6h-1.9zM168.15 542.00h1.9v1.6h-1.9zM168.15 545.20h1.9v1.6h-1.9zM168.15 547.00h1.9v1.6h-1.9zM168.15 550.70h1.9v1.6h-1.9zM168.15 552.70h1.9v1.6h-1.9zM168.15 554.40h1.9v1.6h-1.9zM168.15 561.90h1.9v1.6h-1.9zM256.65 475.10h1.9v1.6h-1.9zM265.65 474.30h1.9v1.6h-1.9zM275.25 488.20h1.9v1.6h-1.9zM266.35 503.10h1.9v1.6h-1.9zM256.65 508.60h1.9v1.6h-1.9zM275.25 513.50h1.9v1.6h-1.9zM256.65 514.80h1.9v1.6h-1.9zM256.65 517.20h1.9v1.6h-1.9zM253.45 516.00h1.9v1.6h-1.9zM260.45 519.00h1.9v1.6h-1.9zM296.65 518.50h1.9v1.6h-1.9zM265.65 521.70h1.9v1.6h-1.9zM252.25 522.70h1.9v1.6h-1.9zM255.95 522.70h1.9v1.6h-1.9zM296.65 524.60h1.9v1.6h-1.9zM296.65 527.60h1.9v1.6h-1.9zM255.95 520.90h1.9v1.6h-1.9zM252.25 524.20h1.9v1.6h-1.9zM266.35 530.40h1.9v1.6h-1.9zM275.25 527.10h1.9v1.6h-1.9zM275.25 529.60h1.9v1.6h-1.9zM250.95 527.60h1.9v1.6h-1.9zM250.95 530.80h1.9v1.6h-1.9zM252.45 526.60h1.9v1.6h-1.9zM255.95 533.80h1.9v1.6h-1.9zM250.45 539.50h1.9v1.6h-1.9zM280.95 538.80h1.9v1.6h-1.9zM275.25 545.00h1.9v1.6h-1.9zM265.65 550.70h1.9v1.6h-1.9zM266.65 552.40h1.9v1.6h-1.9zM265.65 567.80h1.9v1.6h-1.9z" fill="#0c0c0c"/>
<g fill="#0c0c0c"><circle cx="381.43" cy="118.49" r="1.08"/><circle cx="381.43" cy="131.89" r="1.08"/><circle cx="381.43" cy="142.85" r="1.08"/><circle cx="381.43" cy="144.68" r="1.08"/><circle cx="381.43" cy="146.51" r="1.08"/><circle cx="381.43" cy="148.64" r="1.08"/><circle cx="381.43" cy="150.77" r="1.08"/><circle cx="381.43" cy="152.90" r="1.08"/><circle cx="381.43" cy="155.09" r="1.08"/><circle cx="381.43" cy="160.51" r="1.08"/><circle cx="397.06" cy="141.02" r="1.08"/><circle cx="397.06" cy="155.03" r="1.08"/><circle cx="397.06" cy="156.86" r="1.08"/><circle cx="397.06" cy="158.69" r="1.08"/><circle cx="412.69" cy="33.60" r="1.08"/><circle cx="412.69" cy="44.19" r="1.08"/><circle cx="412.69" cy="46.26" r="1.08"/><circle cx="412.69" cy="54.67" r="1.08"/><circle cx="412.69" cy="57.17" r="1.08"/><circle cx="412.69" cy="67.09" r="1.08"/><circle cx="412.69" cy="94.13" r="1.08"/><circle cx="412.69" cy="97.97" r="1.08"/><circle cx="412.69" cy="108.87" r="1.08"/><circle cx="412.69" cy="110.94" r="1.08"/><circle cx="412.69" cy="113.01" r="1.08"/><circle cx="412.69" cy="115.08" r="1.08"/><circle cx="412.69" cy="116.97" r="1.08"/><circle cx="412.69" cy="119.10" r="1.08"/><circle cx="412.69" cy="120.93" r="1.08"/><circle cx="412.69" cy="122.75" r="1.08"/><circle cx="412.69" cy="124.83" r="1.08"/><circle cx="412.69" cy="127.02" r="1.08"/><circle cx="412.69" cy="129.15" r="1.08"/><circle cx="412.69" cy="131.10" r="1.08"/><circle cx="412.69" cy="135.12" r="1.08"/><circle cx="412.69" cy="137.86" r="1.08"/><circle cx="428.32" cy="12.53" r="1.08"/><circle cx="428.32" cy="16.18" r="1.08"/><circle cx="428.32" cy="104.91" r="1.08"/><circle cx="428.32" cy="108.75" r="1.08"/><circle cx="428.32" cy="111.61" r="1.08"/><circle cx="428.32" cy="114.84" r="1.08"/><circle cx="428.32" cy="116.66" r="1.08"/><circle cx="428.32" cy="118.49" r="1.08"/><circle cx="428.32" cy="120.32" r="1.08"/><circle cx="428.32" cy="138.41" r="1.08"/><circle cx="428.32" cy="143.46" r="1.08"/><circle cx="428.32" cy="145.29" r="1.08"/><circle cx="428.32" cy="147.72" r="1.08"/><circle cx="428.32" cy="156.25" r="1.08"/><circle cx="443.95" cy="52.72" r="1.08"/><circle cx="443.95" cy="83.17" r="1.08"/><circle cx="443.95" cy="83.78" r="1.08"/><circle cx="443.95" cy="89.26" r="1.08"/><circle cx="443.95" cy="91.70" r="1.08"/><circle cx="443.95" cy="93.52" r="1.08"/><circle cx="443.95" cy="95.35" r="1.08"/><circle cx="443.95" cy="97.18" r="1.08"/><circle cx="443.95" cy="106.92" r="1.08"/><circle cx="459.58" cy="102.96" r="1.08"/><circle cx="459.58" cy="106.68" r="1.08"/><circle cx="459.58" cy="131.71" r="1.08"/><circle cx="475.21" cy="58.38" r="1.08"/><circle cx="475.21" cy="65.51" r="1.08"/><circle cx="475.21" cy="74.03" r="1.08"/><circle cx="475.21" cy="78.30" r="1.08"/><circle cx="475.21" cy="113.62" r="1.08"/><circle cx="475.21" cy="116.06" r="1.08"/><circle cx="475.21" cy="118.49" r="1.08"/><circle cx="475.21" cy="120.93" r="1.08"/><circle cx="475.21" cy="123.06" r="1.08"/><circle cx="475.21" cy="127.26" r="1.08"/><circle cx="475.21" cy="128.84" r="1.08"/><circle cx="490.84" cy="129.76" r="1.08"/><circle cx="490.84" cy="132.74" r="1.08"/><circle cx="490.84" cy="138.41" r="1.08"/><circle cx="490.84" cy="140.42" r="1.08"/><circle cx="490.84" cy="142.61" r="1.08"/><circle cx="506.47" cy="127.99" r="1.08"/><circle cx="537.73" cy="65.08" r="1.08"/><circle cx="537.73" cy="66.12" r="1.08"/><circle cx="537.73" cy="88.47" r="1.08"/><circle cx="537.73" cy="101.32" r="1.08"/><circle cx="537.73" cy="103.88" r="1.08"/><circle cx="537.73" cy="111.31" r="1.08"/><circle cx="537.73" cy="116.54" r="1.08"/><circle cx="537.73" cy="118.80" r="1.08"/><circle cx="537.73" cy="122.15" r="1.08"/><circle cx="537.73" cy="124.46" r="1.08"/><circle cx="537.73" cy="126.35" r="1.08"/><circle cx="537.73" cy="128.24" r="1.08"/><circle cx="537.73" cy="130.67" r="1.08"/><circle cx="537.73" cy="132.32" r="1.08"/><circle cx="537.73" cy="134.08" r="1.08"/><circle cx="537.73" cy="136.09" r="1.08"/><circle cx="553.36" cy="41.76" r="1.08"/><circle cx="553.36" cy="51.68" r="1.08"/><circle cx="553.36" cy="78.30" r="1.08"/><circle cx="553.36" cy="95.96" r="1.08"/><circle cx="553.36" cy="104.06" r="1.08"/><circle cx="553.36" cy="123.36" r="1.08"/><circle cx="553.36" cy="124.89" r="1.08"/><circle cx="553.36" cy="138.83" r="1.08"/><circle cx="568.99" cy="18.62" r="1.08"/><circle cx="568.99" cy="27.39" r="1.08"/><circle cx="568.99" cy="32.01" r="1.08"/><circle cx="568.99" cy="88.83" r="1.08"/><circle cx="568.99" cy="95.35" r="1.08"/><circle cx="568.99" cy="97.18" r="1.08"/><circle cx="568.99" cy="99.00" r="1.08"/><circle cx="568.99" cy="100.83" r="1.08"/><circle cx="568.99" cy="102.66" r="1.08"/><circle cx="568.99" cy="104.48" r="1.08"/><circle cx="568.99" cy="111.18" r="1.08"/><circle cx="568.99" cy="113.01" r="1.08"/><circle cx="600.25" cy="113.62" r="1.08"/><circle cx="600.25" cy="128.54" r="1.08"/><circle cx="600.25" cy="139.20" r="1.08"/><circle cx="615.88" cy="92.55" r="1.08"/><circle cx="615.88" cy="97.48" r="1.08"/><circle cx="615.88" cy="99.31" r="1.08"/><circle cx="615.88" cy="101.44" r="1.08"/><circle cx="615.88" cy="122.75" r="1.08"/><circle cx="615.88" cy="129.03" r="1.08"/><circle cx="631.51" cy="113.13" r="1.08"/><circle cx="631.51" cy="118.07" r="1.08"/><circle cx="647.14" cy="8.26" r="1.08"/><circle cx="647.14" cy="34.08" r="1.08"/><circle cx="647.14" cy="35.67" r="1.08"/><circle cx="647.14" cy="38.71" r="1.08"/><circle cx="647.14" cy="53.94" r="1.08"/><circle cx="647.14" cy="74.64" r="1.08"/><circle cx="647.14" cy="76.47" r="1.08"/><circle cx="89.70" cy="250.58" r="1.08"/><circle cx="89.70" cy="251.88" r="1.08"/><circle cx="89.70" cy="261.02" r="1.08"/><circle cx="89.70" cy="263.63" r="1.08"/><circle cx="93.04" cy="261.02" r="1.08"/><circle cx="89.70" cy="274.72" r="1.08"/><circle cx="93.04" cy="283.20" r="1.08"/><circle cx="93.04" cy="284.51" r="1.08"/><circle cx="179.11" cy="223.83" r="1.08"/><circle cx="179.11" cy="227.09" r="1.08"/><circle cx="179.11" cy="229.70" r="1.08"/><circle cx="179.11" cy="232.96" r="1.08"/><circle cx="179.11" cy="236.22" r="1.08"/><circle cx="179.11" cy="239.48" r="1.08"/><circle cx="41.84" cy="308.65" r="1.08"/><circle cx="41.84" cy="311.26" r="1.08"/><circle cx="41.84" cy="351.39" r="1.08"/><circle cx="41.84" cy="356.41" r="1.08"/><circle cx="41.84" cy="360.20" r="1.08"/><circle cx="52.97" cy="358.89" r="1.08"/><circle cx="52.97" cy="361.50" r="1.08"/><circle cx="52.97" cy="369.53" r="1.08"/><circle cx="82.28" cy="339.97" r="1.08"/><circle cx="82.28" cy="342.19" r="1.08"/><circle cx="82.28" cy="344.73" r="1.08"/><circle cx="82.28" cy="348.91" r="1.08"/><circle cx="85.99" cy="334.75" r="1.08"/><circle cx="85.99" cy="341.01" r="1.08"/><circle cx="101.20" cy="362.81" r="1.08"/><circle cx="101.20" cy="364.11" r="1.08"/><circle cx="101.20" cy="365.42" r="1.08"/><circle cx="101.20" cy="366.72" r="1.08"/><circle cx="101.20" cy="374.55" r="1.08"/><circle cx="119.75" cy="324.96" r="1.08"/><circle cx="119.75" cy="326.92" r="1.08"/><circle cx="119.75" cy="328.88" r="1.08"/><circle cx="119.75" cy="330.84" r="1.08"/><circle cx="119.75" cy="332.79" r="1.08"/><circle cx="119.75" cy="334.75" r="1.08"/><circle cx="119.75" cy="339.97" r="1.08"/><circle cx="123.46" cy="368.81" r="1.08"/><circle cx="123.46" cy="370.64" r="1.08"/><circle cx="123.46" cy="373.25" r="1.08"/><circle cx="127.17" cy="357.59" r="1.08"/><circle cx="127.17" cy="369.53" r="1.08"/><circle cx="130.88" cy="343.88" r="1.08"/><circle cx="130.88" cy="353.87" r="1.08"/><circle cx="130.88" cy="356.28" r="1.08"/><circle cx="130.88" cy="358.89" r="1.08"/><circle cx="189.87" cy="329.79" r="1.08"/><circle cx="193.58" cy="313.22" r="1.08"/><circle cx="193.58" cy="316.68" r="1.08"/><circle cx="193.58" cy="343.95" r="1.08"/><circle cx="197.29" cy="321.90" r="1.08"/><circle cx="197.29" cy="331.03" r="1.08"/><circle cx="197.29" cy="334.29" r="1.08"/><circle cx="197.29" cy="338.67" r="1.08"/><circle cx="197.29" cy="340.62" r="1.08"/><circle cx="197.29" cy="342.58" r="1.08"/><circle cx="197.29" cy="343.88" r="1.08"/><circle cx="204.71" cy="319.42" r="1.08"/><circle cx="204.71" cy="333.05" r="1.08"/><circle cx="204.71" cy="336.06" r="1.08"/><circle cx="204.71" cy="338.01" r="1.08"/><circle cx="204.71" cy="343.49" r="1.08"/><circle cx="215.84" cy="321.05" r="1.08"/><circle cx="215.84" cy="323.00" r="1.08"/><circle cx="215.84" cy="328.55" r="1.08"/><circle cx="215.84" cy="331.03" r="1.08"/><circle cx="215.84" cy="334.75" r="1.08"/><circle cx="215.84" cy="336.71" r="1.08"/><circle cx="215.84" cy="338.67" r="1.08"/><circle cx="215.84" cy="345.45" r="1.08"/><circle cx="219.55" cy="298.41" r="1.08"/><circle cx="219.55" cy="305.78" r="1.08"/><circle cx="219.55" cy="308.00" r="1.08"/><circle cx="219.55" cy="309.96" r="1.08"/><circle cx="219.55" cy="312.56" r="1.08"/><circle cx="219.55" cy="315.18" r="1.08"/><circle cx="219.55" cy="323.14" r="1.08"/><circle cx="230.68" cy="258.67" r="1.08"/><circle cx="230.68" cy="291.42" r="1.08"/><circle cx="230.68" cy="293.64" r="1.08"/><circle cx="230.68" cy="298.41" r="1.08"/><circle cx="230.68" cy="300.82" r="1.08"/><circle cx="230.68" cy="326.07" r="1.08"/><circle cx="230.68" cy="347.67" r="1.08"/><circle cx="248.86" cy="299.51" r="1.08"/><circle cx="248.86" cy="305.39" r="1.08"/><circle cx="248.86" cy="306.69" r="1.08"/><circle cx="248.86" cy="316.94" r="1.08"/><circle cx="256.28" cy="342.97" r="1.08"/><circle cx="256.28" cy="345.45" r="1.08"/><circle cx="256.28" cy="351.06" r="1.08"/><circle cx="256.28" cy="353.02" r="1.08"/><circle cx="256.28" cy="354.98" r="1.08"/><circle cx="256.28" cy="356.28" r="1.08"/><circle cx="264.07" cy="316.15" r="1.08"/><circle cx="264.07" cy="319.87" r="1.08"/><circle cx="264.07" cy="321.70" r="1.08"/><circle cx="264.07" cy="323.66" r="1.08"/><circle cx="264.07" cy="326.92" r="1.08"/><circle cx="264.07" cy="329.53" r="1.08"/><circle cx="264.07" cy="331.81" r="1.08"/><circle cx="267.41" cy="231.00" r="1.08"/><circle cx="267.41" cy="240.79" r="1.08"/><circle cx="267.41" cy="245.03" r="1.08"/><circle cx="267.41" cy="308.78" r="1.08"/><circle cx="267.41" cy="311.98" r="1.08"/><circle cx="267.41" cy="322.35" r="1.08"/><circle cx="275.20" cy="307.54" r="1.08"/><circle cx="275.20" cy="327.31" r="1.08"/><circle cx="275.20" cy="338.47" r="1.08"/><circle cx="278.91" cy="303.82" r="1.08"/><circle cx="278.91" cy="331.03" r="1.08"/><circle cx="278.91" cy="333.58" r="1.08"/><circle cx="278.91" cy="337.23" r="1.08"/><circle cx="278.91" cy="350.41" r="1.08"/><circle cx="297.46" cy="265.59" r="1.08"/><circle cx="297.46" cy="272.76" r="1.08"/><circle cx="297.46" cy="282.22" r="1.08"/><circle cx="297.46" cy="286.20" r="1.08"/><circle cx="297.46" cy="324.83" r="1.08"/><circle cx="297.46" cy="339.77" r="1.08"/><circle cx="297.46" cy="352.17" r="1.08"/><circle cx="308.59" cy="303.30" r="1.08"/><circle cx="319.72" cy="323.66" r="1.08"/><circle cx="319.72" cy="329.33" r="1.08"/><circle cx="323.43" cy="258.15" r="1.08"/><circle cx="323.43" cy="305.78" r="1.08"/><circle cx="323.43" cy="334.75" r="1.08"/><circle cx="323.43" cy="351.39" r="1.08"/><circle cx="327.14" cy="247.51" r="1.08"/><circle cx="327.14" cy="286.47" r="1.08"/><circle cx="327.14" cy="314.52" r="1.08"/><circle cx="327.14" cy="336.06" r="1.08"/><circle cx="330.85" cy="271.78" r="1.08"/><circle cx="330.85" cy="297.36" r="1.08"/><circle cx="330.85" cy="310.61" r="1.08"/><circle cx="330.85" cy="313.87" r="1.08"/><circle cx="330.85" cy="322.35" r="1.08"/><circle cx="330.85" cy="329.07" r="1.08"/><circle cx="380.20" cy="344.69" r="1.08"/><circle cx="380.20" cy="356.65" r="1.08"/><circle cx="380.20" cy="359.57" r="1.08"/><circle cx="393.20" cy="330.32" r="1.08"/><circle cx="393.20" cy="354.70" r="1.08"/><circle cx="393.20" cy="363.34" r="1.08"/><circle cx="393.20" cy="365.10" r="1.08"/><circle cx="393.20" cy="366.40" r="1.08"/><circle cx="393.20" cy="368.35" r="1.08"/><circle cx="393.20" cy="375.24" r="1.08"/><circle cx="406.20" cy="304.65" r="1.08"/><circle cx="406.20" cy="331.95" r="1.08"/><circle cx="406.20" cy="334.75" r="1.08"/><circle cx="406.20" cy="338.45" r="1.08"/><circle cx="406.20" cy="350.93" r="1.08"/><circle cx="406.20" cy="359.57" r="1.08"/><circle cx="406.20" cy="362.82" r="1.08"/><circle cx="406.20" cy="370.04" r="1.08"/><circle cx="419.20" cy="308.22" r="1.08"/><circle cx="419.20" cy="319.93" r="1.08"/><circle cx="419.20" cy="322.20" r="1.08"/><circle cx="419.20" cy="323.50" r="1.08"/><circle cx="419.20" cy="326.75" r="1.08"/><circle cx="419.20" cy="330.00" r="1.08"/><circle cx="419.20" cy="332.60" r="1.08"/><circle cx="419.20" cy="334.55" r="1.08"/><circle cx="419.20" cy="336.50" r="1.08"/><circle cx="419.20" cy="338.45" r="1.08"/><circle cx="419.20" cy="340.40" r="1.08"/><circle cx="419.20" cy="342.35" r="1.08"/><circle cx="419.20" cy="344.69" r="1.08"/><circle cx="419.20" cy="348.39" r="1.08"/><circle cx="419.20" cy="351.64" r="1.08"/><circle cx="419.20" cy="356.65" r="1.08"/><circle cx="419.20" cy="360.35" r="1.08"/><circle cx="419.20" cy="369.52" r="1.08"/><circle cx="419.20" cy="371.60" r="1.08"/><circle cx="419.20" cy="374.00" r="1.08"/><circle cx="432.20" cy="291.91" r="1.08"/><circle cx="432.20" cy="293.92" r="1.08"/><circle cx="432.20" cy="298.80" r="1.08"/><circle cx="432.20" cy="300.75" r="1.08"/><circle cx="432.20" cy="302.05" r="1.08"/><circle cx="432.20" cy="306.60" r="1.08"/><circle cx="432.20" cy="307.57" r="1.08"/><circle cx="432.20" cy="317.91" r="1.08"/><circle cx="445.20" cy="316.15" r="1.08"/><circle cx="445.20" cy="319.93" r="1.08"/><circle cx="445.20" cy="323.11" r="1.08"/><circle cx="445.20" cy="328.70" r="1.08"/><circle cx="445.20" cy="330.65" r="1.08"/><circle cx="445.20" cy="332.79" r="1.08"/><circle cx="445.20" cy="358.34" r="1.08"/><circle cx="445.20" cy="370.50" r="1.08"/><circle cx="471.20" cy="343.45" r="1.08"/><circle cx="471.20" cy="345.93" r="1.08"/><circle cx="471.20" cy="352.10" r="1.08"/><circle cx="471.20" cy="354.38" r="1.08"/><circle cx="471.20" cy="356.65" r="1.08"/><circle cx="497.20" cy="313.75" r="1.08"/><circle cx="497.20" cy="317.39" r="1.08"/><circle cx="497.20" cy="324.80" r="1.08"/><circle cx="497.20" cy="326.75" r="1.08"/><circle cx="497.20" cy="328.70" r="1.08"/><circle cx="497.20" cy="330.00" r="1.08"/><circle cx="497.20" cy="332.27" r="1.08"/><circle cx="497.20" cy="334.75" r="1.08"/><circle cx="497.20" cy="340.40" r="1.08"/><circle cx="497.20" cy="344.69" r="1.08"/><circle cx="510.20" cy="272.80" r="1.08"/><circle cx="510.20" cy="298.15" r="1.08"/><circle cx="510.20" cy="311.80" r="1.08"/><circle cx="510.20" cy="315.05" r="1.08"/><circle cx="510.20" cy="322.39" r="1.08"/><circle cx="510.20" cy="326.10" r="1.08"/><circle cx="510.20" cy="328.70" r="1.08"/><circle cx="510.20" cy="330.98" r="1.08"/><circle cx="510.20" cy="334.75" r="1.08"/><circle cx="510.20" cy="336.50" r="1.08"/><circle cx="510.20" cy="338.45" r="1.08"/><circle cx="510.20" cy="346.70" r="1.08"/><circle cx="523.20" cy="266.30" r="1.08"/><circle cx="523.20" cy="273.45" r="1.08"/><circle cx="523.20" cy="282.75" r="1.08"/><circle cx="523.20" cy="287.10" r="1.08"/><circle cx="536.20" cy="248.49" r="1.08"/><circle cx="536.20" cy="258.89" r="1.08"/><circle cx="536.20" cy="287.75" r="1.08"/><circle cx="536.20" cy="306.27" r="1.08"/><circle cx="536.20" cy="315.44" r="1.08"/><circle cx="536.20" cy="323.11" r="1.08"/><circle cx="536.20" cy="335.33" r="1.08"/><circle cx="536.20" cy="337.28" r="1.08"/><circle cx="536.20" cy="352.10" r="1.08"/><circle cx="549.20" cy="298.80" r="1.08"/><circle cx="549.20" cy="306.60" r="1.08"/><circle cx="549.20" cy="308.55" r="1.08"/><circle cx="549.20" cy="310.50" r="1.08"/><circle cx="549.20" cy="312.45" r="1.08"/><circle cx="549.20" cy="314.40" r="1.08"/><circle cx="549.20" cy="316.35" r="1.08"/><circle cx="549.20" cy="324.15" r="1.08"/><circle cx="549.20" cy="340.07" r="1.08"/><circle cx="549.20" cy="341.05" r="1.08"/><circle cx="588.20" cy="224.31" r="1.08"/><circle cx="588.20" cy="234.45" r="1.08"/><circle cx="588.20" cy="238.35" r="1.08"/><circle cx="588.20" cy="309.46" r="1.08"/><circle cx="588.20" cy="313.10" r="1.08"/><circle cx="588.20" cy="323.11" r="1.08"/><circle cx="588.20" cy="340.53" r="1.08"/><circle cx="588.20" cy="343.45" r="1.08"/><circle cx="588.20" cy="345.93" r="1.08"/><circle cx="588.20" cy="349.69" r="1.08"/><circle cx="601.20" cy="303.35" r="1.08"/><circle cx="601.20" cy="309.46" r="1.08"/><circle cx="601.20" cy="311.93" r="1.08"/><circle cx="627.20" cy="321.88" r="1.08"/><circle cx="627.20" cy="328.05" r="1.08"/><circle cx="640.20" cy="312.12" r="1.08"/><circle cx="640.20" cy="312.77" r="1.08"/><circle cx="666.20" cy="310.69" r="1.08"/><circle cx="666.20" cy="316.02" r="1.08"/><circle cx="666.20" cy="317.00" r="1.08"/></g>
</svg>
</body></html>
